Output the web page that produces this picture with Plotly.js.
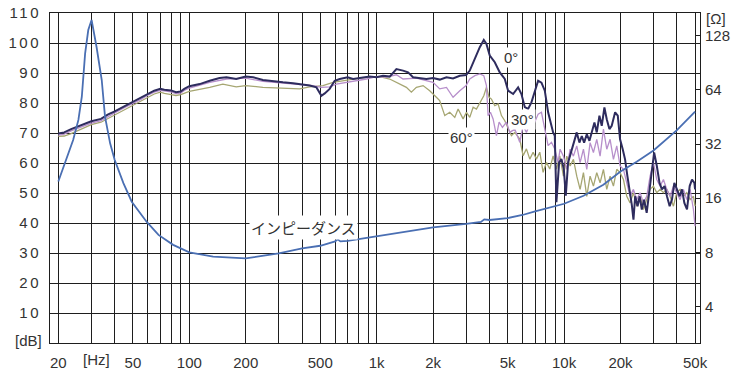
<!DOCTYPE html>
<html><head><meta charset="utf-8">
<script src="https://cdn.plot.ly/plotly-3.0.1.min.js"></script>
<style>
html,body{margin:0;padding:0;background:#fff;}
#chart{width:746px;height:379px;}
.yaxislayer-above .ytick text{letter-spacing:2.5px;}
</style>
</head><body><div id="chart"></div>
<script>
// ---- data ----
const freq0 = [20,21.5,23.4,25.4,27.5,30,33.8,36.7,40,45,50,55.2,60,65,70,73.6,80,84.9,90,94,100,
 113.6,128.5,145,158,178,200,219,247,280,316,358,405,439,477,507,528,561,597,635,700,748,812,918,996,1081,1173,1274,1382,1470,1563,1696,1842,1999,
 2170,2357,2556,2776,3000,3138,3270,3406,3549,3728,3851,4012,4267,4538,4825,5026,5346,5684,5920,6170,6427,6694,6974,7268,7572,7888,8218,8562,8738,8918,9100,9404,9678,9964,10210,10506,
 10988,11308,11684,12072,12429,12787,13215,13655,14050,14518,14938,15436,15880,16410,16890,17450,17950,18720,19340,19890,20550,21150,21770,22500,22970,23450,23950,24670,25300,25980,26700,27590,28510,29360,30230,31250,32300,33260,34380,35400,36580,37640,38750,40030,41370,42580,43820,45280,46790,48150,49560,50000];
const spl0 = [69.8,70.2,71.3,72.2,73.1,73.9,74.7,76.1,77.2,78.9,80.3,81.7,83.1,84.1,84.7,84.4,84.2,83.6,83.8,84.7,85.6,
 86.3,87.4,88.3,88.6,88,88.8,88.6,87.7,87.2,86.9,86.6,86.1,85.8,85.2,82.4,83.2,84.7,87.4,88,88.6,88,88.3,88.8,88.6,89.1,88.8,91.3,90.8,90.2,88.6,88.3,88,88.3,
 87.8,88.6,88.2,89.1,89.3,90.8,93.6,95.8,98.6,101,99.7,95.8,93.6,90.2,88,84.1,83,85.2,83,78.6,78,80.2,84.1,87.4,86.8,84.1,76.9,72.4,70.2,69.1,46.9,60.2,61.3,58,49.1,60.2,
 64.6,67.9,70.2,66.8,69,66.8,69.6,67.4,70.2,73.5,70.2,75.8,72.4,78.5,74.6,71.3,72.4,76.9,75.8,67.9,64.6,61.2,55.6,50.1,46.1,41.1,48.9,45.6,48.9,44.5,47.8,43.4,51.2,57.9,63.5,59,53.4,51.2,52.3,48.9,45.6,47.8,53.4,51.2,48.9,51.2,46.7,44.5,52.3,54.5,53.4,51.2];

const freq30 = [20,21.5,23.4,25.4,27.5,30,33.8,36.7,40,45,50,55.2,60,65,70,73.6,80,84.9,90,94,100,
 128.5,158,200,247,316,405,457,507,561,609,700,779,881,996,1126,1274,1382,1628,1842,1999,
 2170,2357,2556,2776,3000,3138,3340,3549,3728,3851,3931,4046,4180,4355,4500,4688,4926,5132,5456,5801,6043,6295,6695,6974,7268,7572,7888,8218,8562,8918,9290,
 9520,9918,10333,10766,11215,11685,12173,12683,13213,13762,14337,14937,15562,16214,16892,17598,18335,19099,19897,20730,21597,22500,23442,24423,25445,26504,27613,28769,29972,31225,32532,33893,35310,36776,38314,39916,41591,43332,45145,47030,48989,50000];
const spl30 = [69.3,69.6,70.7,71.6,72.6,73.3,74.1,75.5,76.7,78.4,79.8,81.2,82.6,83.6,84.2,84,83.7,83.1,83.3,84.2,85,
 86.9,88,88.3,87.2,86.6,86.1,85.8,85.2,85.4,86.3,86.9,87.4,88,88.8,88.6,89.4,88,88.3,87.4,86.9,
 84.7,85.2,81.9,84.1,85.8,88,89.1,89.7,89.1,85.8,75.8,76.9,74.7,69.1,73.6,71.9,73.6,70.2,71.3,66.9,72.4,70.2,74.7,73.6,76.3,76.9,71.3,65.8,66.9,64.7,60.2,
 64.6,62.3,57.9,64.6,62.3,65.7,60.1,64.6,57.9,66.8,63.5,67.9,62.3,71.3,64.6,67.9,61.2,65.7,59,57.9,53.4,48.9,51.2,47.8,50.1,46.7,48.9,55.6,60.1,54.5,52.3,54.5,51.2,48.9,52.3,50.1,47.8,51.2,47.8,51.2,44.5,38.9];

const freq60 = [20,21.5,23.4,25.4,27.5,30,33.8,36.7,40,45,50,55.2,60,65,70,73.6,80,84.9,90,94,100,
 128.5,151,178,200,247,316,388,439,517,585,700,812,918,1038,1173,1274,1440,1531,1628,1768,1918,2082,2168,
 2308,2454,2610,2719,2891,3013,3138,3270,3406,3549,3728,3851,3979,4096,4267,4446,4631,4825,5026,5236,5456,5801,6043,6295,6560,6834,7119,7417,7727,8050,8387,8738,9104,9485,
 9918,10333,10766,11215,11685,12173,12683,13213,13762,14337,14937,15562,16214,16892,17598,18335,19099,19897,20730,21597,22500,23442,24423,25445,26504,27613,28769,29972,31225,32532,33893,35310,36776,38314,39916,41591,43332,45145,47030,48989,50000];
const spl60 = [68.9,69,69.8,70.8,72,72.8,73.6,74.8,76.1,77.6,79.1,80.6,82,83,83.6,83.2,82.8,82.5,82.8,83.3,83.9,
 85.2,86.3,85.4,85.8,85.2,85,84.7,85.4,85.8,86.9,87.7,88.3,88.6,88.8,88,86.9,85.2,83.6,85.2,85.8,84.1,81.9,80.8,
 75.8,76.9,75.2,78,74.7,76.9,75.2,78.6,78,80.2,82.4,85.2,81.9,81.3,79.1,79.7,75.8,74.1,71.3,69.1,70.2,68,62.4,64.7,61.3,63.6,61.3,63.6,56.9,60.2,58,62.4,58,62.4,
 55.6,62.3,59,61.2,55.6,51.2,56.8,48.9,55.6,52.3,56.8,53.4,57.9,51.2,55.6,52.3,57.9,56.8,54.5,48.9,46.7,50.1,45.6,48.9,44.5,47.8,51.2,52.3,50.1,51.2,50.1,51.2,48.9,45.6,50.1,51.2,48.9,50.1,47.8,48.9,45.6];

const freqZ = [20,21.7,24.0,25.6,26.7,27.8,28.9,30.1,32.0,34.1,35.5,37.8,40,44.5,49.3,59.3,68.5,82,100,134,200,300,400,500,600,620,640,700,800,1000,1570,2000,3000,3600,3750,4000,5000,6000,7000,9000,10000,12700,16200,20000,24400,30000,40000,50000];
const impZ = [19.8,25,33.7,43.6,58.7,102,138,157,111,72.7,45.5,32.3,26.1,19.4,15.3,11.8,10.0,8.8,8.0,7.56,7.4,7.9,8.4,8.7,9.2,9.45,9.2,9.25,9.45,9.8,10.6,11.0,11.5,11.8,12.2,12.1,12.4,12.9,13.5,14.4,14.9,16.5,19,22.5,25.5,29.5,38.3,48.5];

const xGridVals = [20,30,40,50,60,70,80,90,100,200,300,400,500,600,700,800,900,1000,2000,3000,4000,5000,6000,7000,8000,9000,10000,20000,30000,40000,50000];
const xLabelVals = [20,50,100,200,500,1000,2000,5000,10000,20000,50000];
const xLabelText = ['20','50','100','200','500','1k','2k','5k','10k','20k','50k'];
const yTickVals = [0,10,20,30,40,50,60,70,80,90,100,110];
const yTickText = ['','10','20','30','40','50','60','70','80','90','100','110'];
const zTickVals = [4,8,16,32,64,128];
const zTickText = ['4','8','16','32','64','128'];
const seriesNames = ['0°','30°','60°'];

// ---- build ----
const xTickText = xGridVals.map(v => { const i = xLabelVals.indexOf(v); return i >= 0 ? xLabelText[i] : ''; });
const txtCol = '#333';
const gridCol = '#1e1e1e';
const fnt = 'Liberation Sans, Arial, sans-serif';

const traces = [
  {x: freq60, y: spl60, type:'scatter', mode:'lines', name: seriesNames[2], line:{color:'#a6a672', width:1.3}},
  {x: freq30, y: spl30, type:'scatter', mode:'lines', name: seriesNames[1], line:{color:'#b78fcb', width:1.3}},
  {x: freq0, y: spl0, type:'scatter', mode:'lines', name: seriesNames[0], line:{color:'#2e2c5e', width:2}},
  {x: freqZ, y: impZ, type:'scatter', mode:'lines', name:'インピーダンス', yaxis:'y2', line:{color:'#4a6fb3', width:1.8}}
];

const layout = {
  width:746, height:379,
  margin:{l:50, r:46, t:13, b:36, pad:0},
  paper_bgcolor:'#fff', plot_bgcolor:'#fff',
  showlegend:false,
  font:{family:fnt, size:15, color:txtCol},
  xaxis:{type:'log', range:[1.2567, 4.7252], tickmode:'array', tickvals:xGridVals, ticktext:xTickText,
    showgrid:true, gridcolor:gridCol, gridwidth:1, showline:true, mirror:true, linecolor:gridCol, linewidth:1,
    ticks:'', ticklabelstandoff:6, zeroline:false, tickfont:{family:fnt, size:15, color:txtCol}},
  yaxis:{range:[0,110], tickmode:'array', tickvals:yTickVals, ticktext:yTickText,
    showgrid:true, gridcolor:gridCol, gridwidth:1, showline:true, mirror:true, linecolor:gridCol, linewidth:1,
    ticks:'', ticklabelstandoff:5, zeroline:false, tickfont:{family:fnt, size:15, color:txtCol}},
  yaxis2:{type:'log', range:[0.3984, 2.2345], overlaying:'y', side:'right', tickmode:'array', tickvals:zTickVals, ticktext:zTickText,
    showgrid:false, showline:false, ticks:'inside', ticklen:5, tickcolor:gridCol, ticklabelstandoff:4, zeroline:false,
    tickfont:{family:fnt, size:15, color:txtCol}},
  annotations:[
    {xref:'x', yref:'paper', x:Math.log10(31.8), y:0, yanchor:'top', yshift:-6, text:'[Hz]', showarrow:false, font:{family:fnt, size:15, color:txtCol}},
    {xref:'paper', yref:'y', x:0, y:0, xanchor:'right', xshift:-6, yshift:3, text:'[dB]', showarrow:false, font:{family:fnt, size:15, color:txtCol}},
    {xref:'paper', yref:'y2', x:1, y:Math.log10(159), xanchor:'left', xshift:4, text:'[Ω]', showarrow:false, font:{family:fnt, size:15, color:txtCol}},
    {xref:'x', yref:'y', x:Math.log10(409), y:38.4, text:'インピーダンス', showarrow:false, bgcolor:'#fff', borderpad:1, font:{family:'Noto Sans CJK JP, sans-serif', size:15, color:txtCol}},
    {xref:'x', yref:'y', x:Math.log10(5208), y:95.1, text:seriesNames[0], showarrow:false, bgcolor:'#fff', borderpad:1, font:{family:fnt, size:15, color:txtCol}},
    {xref:'x', yref:'y', x:Math.log10(5962), y:74.4, text:seriesNames[1], showarrow:false, bgcolor:'#fff', borderpad:1, font:{family:fnt, size:15, color:txtCol}},
    {xref:'x', yref:'y', x:Math.log10(2818), y:68.4, text:seriesNames[2], showarrow:false, bgcolor:'#fff', borderpad:1, font:{family:fnt, size:15, color:txtCol}}
  ]
};

Plotly.newPlot('chart', traces, layout, {staticPlot:true, displayModeBar:false});
</script>
</body></html>
